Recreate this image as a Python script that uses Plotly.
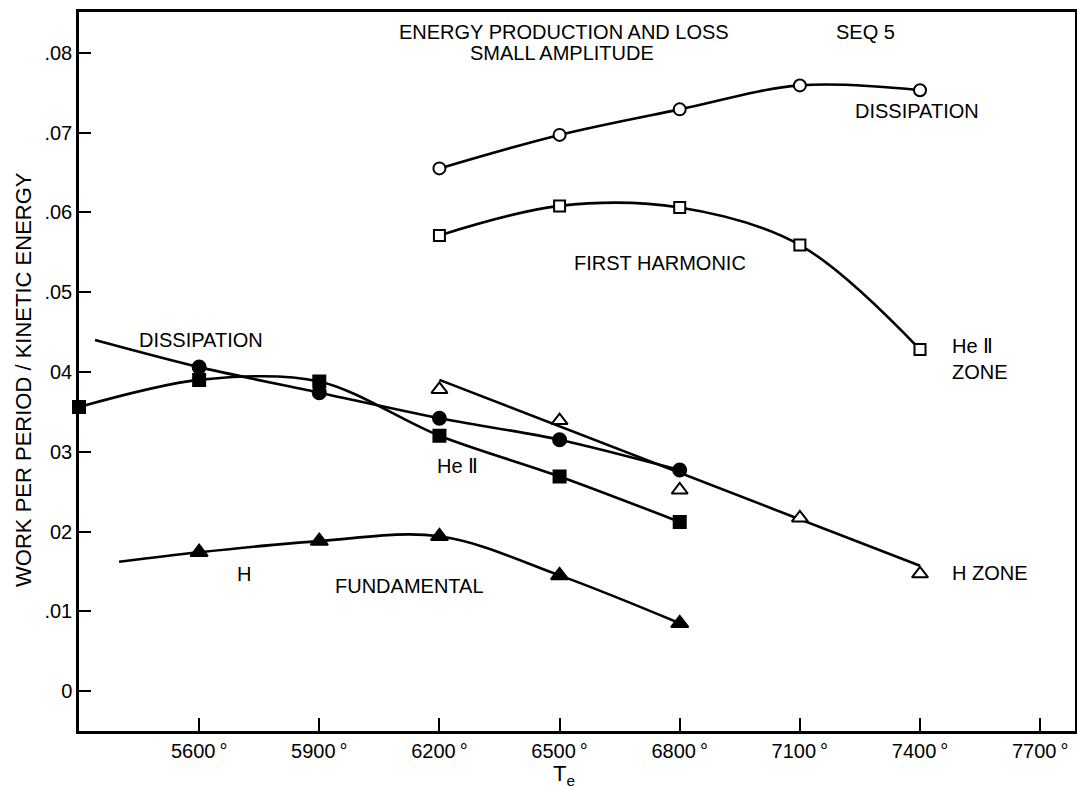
import plotly.graph_objects as go

# ---- data -------------------------------------------------------------
# First harmonic: dissipation (open circles)
fh_diss_te = [6200, 6500, 6800, 7100, 7400]
fh_diss = [0.0655, 0.0697, 0.0729, 0.0759, 0.0753]

# First harmonic: He II zone (open squares)
fh_he_te = [6200, 6500, 6800, 7100, 7400]
fh_he = [0.0571, 0.0608, 0.0606, 0.0559, 0.0428]

# First harmonic: H zone (open triangles) and its straight fit
fh_h_te = [6200, 6500, 6800, 7100, 7400]
fh_h = [0.0378, 0.0339, 0.0252, 0.0217, 0.0147]
fh_h_fit_te = [6200, 7400]
fh_h_fit = [0.0390, 0.0157]

# Fundamental: dissipation (filled circles), curve extended to the left
fund_diss_te = [5600, 5900, 6200, 6500, 6800]
fund_diss = [0.0406, 0.0374, 0.0342, 0.0315, 0.0277]
fund_diss_ext_te = [5340]
fund_diss_ext = [0.0440]

# Fundamental: He II zone (filled squares)
fund_he_te = [5300, 5600, 5900, 6200, 6500, 6800]
fund_he = [0.0356, 0.0390, 0.0388, 0.0320, 0.0269, 0.0212]

# Fundamental: H zone (filled triangles), curve extended to the left
fund_h_te = [5600, 5900, 6200, 6500, 6800]
fund_h = [0.0174, 0.0188, 0.0194, 0.0145, 0.0085]
fund_h_ext_te = [5400]
fund_h_ext = [0.0162]

# axis ticks
x_tick_vals = [5600, 5900, 6200, 6500, 6800, 7100, 7400, 7700]
x_tick_text = ["5600\u2009°", "5900\u2009°", "6200\u2009°", "6500\u2009°",
               "6800\u2009°", "7100\u2009°", "7400\u2009°", "7700\u2009°"]
y_tick_vals = [0, 0.01, 0.02, 0.03, 0.04, 0.05, 0.06, 0.07, 0.08]
y_tick_text = ["0", ".01", "02", "03", "04", ".05", ".06", ".07", ".08"]

# ---- styling ----------------------------------------------------------
FONT = "Liberation Sans, Arial, Helvetica, sans-serif"
INK = "black"
LW = 2.6

fig = go.Figure()


def curve(xs, ys, shape="spline", smoothing=1.0):
    fig.add_trace(go.Scatter(
        x=xs, y=ys, mode="lines",
        line=dict(color=INK, width=LW, shape=shape, smoothing=smoothing),
        hoverinfo="skip", showlegend=False, cliponaxis=False,
    ))


def points(xs, ys, symbol, size, filled):
    fig.add_trace(go.Scatter(
        x=xs, y=ys, mode="markers",
        marker=dict(symbol=symbol, size=size,
                    color=INK if filled else "white",
                    line=dict(color=INK, width=2)),
        showlegend=False, cliponaxis=False,
    ))


# connecting curves
curve(fh_diss_te, fh_diss, smoothing=1.0)
curve(fh_he_te, fh_he, smoothing=1.0)
curve(fh_h_fit_te, fh_h_fit, shape="linear")
curve(fund_diss_ext_te + fund_diss_te, fund_diss_ext + fund_diss, smoothing=0.8)
curve(fund_he_te, fund_he, smoothing=0.9)
curve(fund_h_ext_te + fund_h_te, fund_h_ext + fund_h, smoothing=1.0)

# plotted points
points(fh_diss_te, fh_diss, "circle", 12, False)
points(fh_he_te, fh_he, "square", 11, False)
points(fh_h_te, fh_h, "triangle-up", 14, False)
points(fund_diss_te, fund_diss, "circle", 13, True)
points(fund_he_te, fund_he, "square", 12, True)
points(fund_h_te, fund_h, "triangle-up", 15, True)

# ---- labels inside the frame -----------------------------------------
labels = [
    ("ENERGY PRODUCTION AND LOSS", 6512, 0.0826, "center"),
    ("SMALL AMPLITUDE", 6505, 0.0800, "center"),
    ("SEQ 5", 7265, 0.0826, "center"),
    ("DISSIPATION", 7392, 0.0727, "center"),
    ("FIRST HARMONIC", 6750, 0.0536, "center"),
    ("He Ⅱ<br>ZONE", 7475, 0.0416, "left"),
    ("H ZONE", 7475, 0.0148, "left"),
    ("He Ⅱ", 6244, 0.0282, "center"),
    ("DISSIPATION", 5605, 0.0440, "center"),
    ("H", 5712, 0.0147, "center"),
    ("FUNDAMENTAL", 6124, 0.0132, "center"),
]
for text, x, y, anchor in labels:
    fig.add_annotation(
        x=x, y=y, xref="x", yref="y", text=text, showarrow=False,
        xanchor=anchor, yanchor="middle", align="left",
        font=dict(family=FONT, size=20, color=INK),
    )

# axis titles
fig.add_annotation(
    x=-0.0552, y=0.039, xref="paper", yref="y",
    text="WORK PER PERIOD / KINETIC ENERGY", textangle=-90,
    showarrow=False, xanchor="center", yanchor="middle",
    font=dict(family=FONT, size=22, color=INK),
)
fig.add_annotation(
    x=6512, y=-0.061, xref="x", yref="paper",
    text="T<sub>e</sub>", showarrow=False,
    xanchor="center", yanchor="middle",
    font=dict(family=FONT, size=22, color=INK),
)

axis_common = dict(
    showgrid=False, zeroline=False,
    showline=True, linecolor=INK, linewidth=2.5, mirror=True,
    ticks="inside", tickcolor=INK,
    tickfont=dict(family=FONT, size=20, color=INK),
)

fig.update_xaxes(
    range=[5300, 7787], tickmode="array",
    tickvals=x_tick_vals, ticktext=x_tick_text,
    ticklen=13, tickwidth=1.8, ticklabelstandoff=0,
    **axis_common,
)
fig.update_yaxes(
    range=[-0.0050, 0.0851], tickmode="array",
    tickvals=y_tick_vals, ticktext=y_tick_text,
    ticklen=12, tickwidth=2, ticklabelstandoff=0,
    **axis_common,
)

fig.update_layout(
    width=1077, height=788,
    margin=dict(l=79, r=2, t=12, b=57, autoexpand=False),
    paper_bgcolor="white", plot_bgcolor="white",
    showlegend=False,
)

fig.write_html("out.html")
